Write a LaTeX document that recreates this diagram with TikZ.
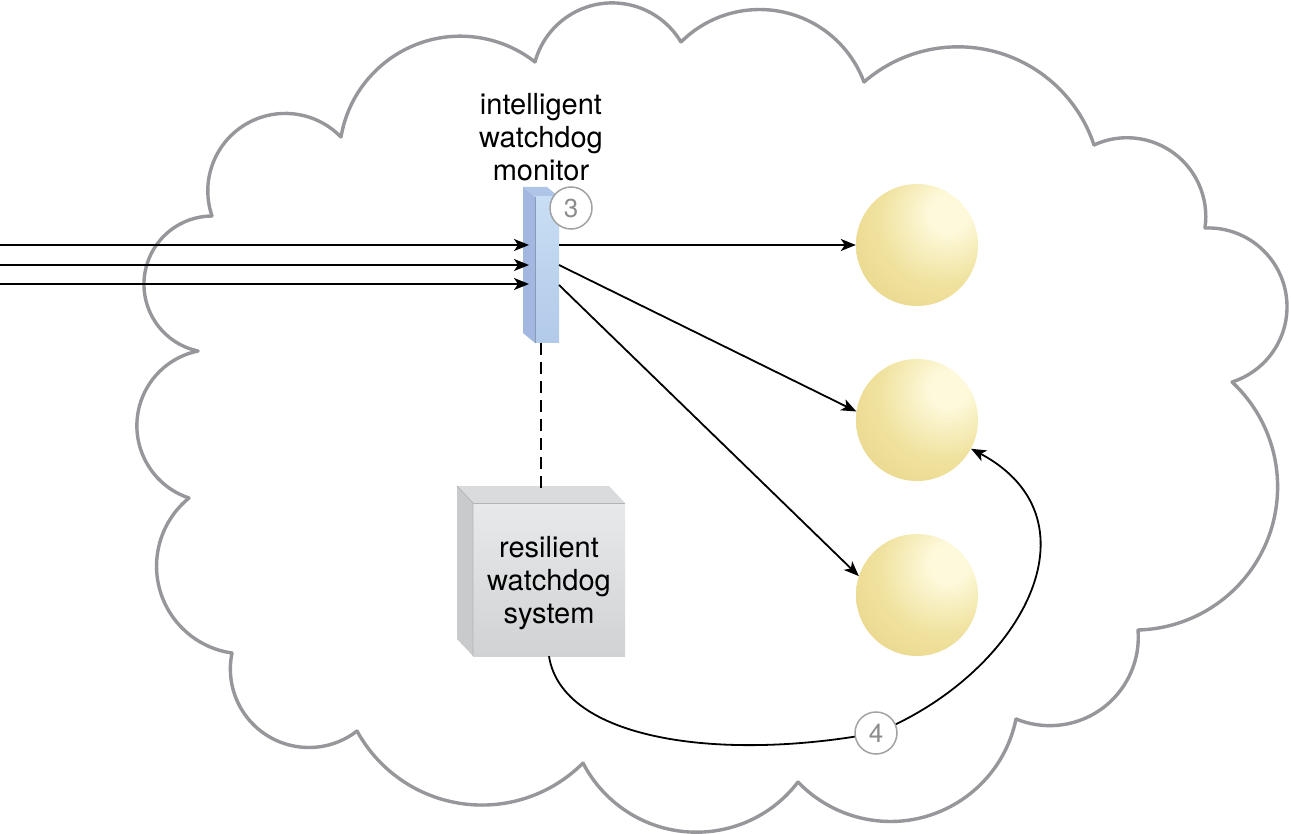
\documentclass[tikz,border=0pt]{standalone}
\usepackage{fontspec}
\setmainfont{TeX Gyre Heros}
\usetikzlibrary{arrows.meta,calc}
\definecolor{cloudgray}{HTML}{96969B}
\definecolor{numgray}{HTML}{8C8C8C}
\definecolor{numline}{HTML}{A2A2A2}
\definecolor{sphBase}{HTML}{E8D486}
\definecolor{sphMid}{HTML}{F0E29F}
\definecolor{sphHi}{HTML}{FDF9DA}
\definecolor{monFrontTop}{HTML}{C8DEF4}
\definecolor{monFrontBot}{HTML}{B2CAE9}
\definecolor{monSide}{HTML}{A2B8E0}
\definecolor{monTop}{HTML}{AEC5E7}
\definecolor{monEdge}{HTML}{8A9BB8}
\definecolor{boxFrontTop}{HTML}{E8E9EA}
\definecolor{boxFrontBot}{HTML}{D1D2D4}
\definecolor{boxTop}{HTML}{DADBDC}
\definecolor{boxSide}{HTML}{C9CACC}
\definecolor{boxEdge}{HTML}{B3B4B6}
\pgfdeclareradialshading{goldball}{\pgfpoint{14bp}{14bp}}{color(0bp)=(sphHi); color(8bp)=(sphHi); color(26bp)=(sphMid); color(46bp)=(sphBase); color(50bp)=(sphBase); color(100bp)=(sphBase)}
% arc of the circle through start (#1,#2), middle (#3,#4) and end (#5,#6), image pixel coordinates
\newcommand{\cloudarc}[6]{%
 \pgfmathsetmacro{\cldBx}{((#3)-(#1))/100}%
 \pgfmathsetmacro{\cldBy}{((#4)-(#2))/100}%
 \pgfmathsetmacro{\cldCx}{((#5)-(#1))/100}%
 \pgfmathsetmacro{\cldCy}{((#6)-(#2))/100}%
 \pgfmathsetmacro{\cldD}{2*((\cldBx)*(\cldCy)-(\cldBy)*(\cldCx))}%
 \pgfmathsetmacro{\cldBB}{(\cldBx)*(\cldBx)+(\cldBy)*(\cldBy)}%
 \pgfmathsetmacro{\cldCC}{(\cldCx)*(\cldCx)+(\cldCy)*(\cldCy)}%
 \pgfmathsetmacro{\cldUx}{((\cldCy)*(\cldBB)-(\cldBy)*(\cldCC))/(\cldD)}%
 \pgfmathsetmacro{\cldUy}{((\cldBx)*(\cldCC)-(\cldCx)*(\cldBB))/(\cldD)}%
 \pgfmathsetmacro{\cldR}{100*sqrt((\cldUx)*(\cldUx)+(\cldUy)*(\cldUy))}%
 \pgfmathsetmacro{\cldS}{atan2(-1*(\cldUy),-1*(\cldUx))}%
 \pgfmathsetmacro{\cldE}{atan2((\cldCy)-(\cldUy),(\cldCx)-(\cldUx))}%
 \pgfmathsetmacro{\cldE}{ifthenelse((\cldE)<(\cldS),(\cldE)+360,(\cldE))}%
 \draw[cloudline] (#1,#2) arc[start angle=\cldS, end angle=\cldE, radius=\cldR];%
}
\begin{document}
\begin{tikzpicture}[x=1pt,y=-1pt,
  arr/.style={line width=1.8pt, -{Stealth[length=15pt,width=12pt,inset=4pt]}},
  numcirc/.style={circle, draw=numline, line width=1.5pt, fill=white, minimum size=42pt, inner sep=0pt, text=numgray, font=\fontsize{26}{30}\selectfont},
  sphere/.style={circle, minimum size=122pt, inner sep=0pt, shading=goldball},
  lbl/.style={align=center, font=\fontsize{29}{33}\selectfont, inner sep=0pt},
  cloudline/.style={draw=cloudgray, line width=3.4pt, line cap=round}]
\fill[white] (0,0) rectangle (1291,834);
\useasboundingbox (0,0) rectangle (1291,834);
% cloud outline: one circular arc per bump
\cloudarc{198}{351}{144}{282}{212}{216}
\cloudarc{212}{216}{240}{128}{341}{137}
\cloudarc{341}{137}{415}{45}{535}{62}
\cloudarc{535}{62}{608}{3}{681}{42}
\cloudarc{681}{42}{770}{10}{864}{82}
\cloudarc{864}{82}{965}{47}{1094}{145}
\cloudarc{1094}{145}{1160}{145}{1205}{228}
\cloudarc{1205}{228}{1287}{305}{1232}{382}
\cloudarc{1232}{382}{1277}{500}{1138}{630}
\cloudarc{1138}{630}{1110}{702}{1016}{719}
\cloudarc{1016}{719}{920}{818}{798}{782}
\cloudarc{798}{782}{690}{832}{583}{763}
\cloudarc{583}{763}{478}{805}{357}{731}
\cloudarc{357}{731}{280}{742}{232}{653}
\cloudarc{232}{653}{157}{575}{189}{498}
\cloudarc{189}{498}{137}{430}{198}{351}
% monitor (3D column)
\fill[monSide] (523,187) -- (535,197) -- (535,343) -- (523,333) -- cycle;
\fill[monTop] (523,187) -- (547,187) -- (559,197) -- (535,197) -- cycle;
\fill[top color=monFrontTop, bottom color=monFrontBot] (535,197) rectangle (559,343);
\draw[monEdge, line width=0.6pt] (535,197) -- (535,343);
\node[minimum width=24pt, minimum height=146pt, inner sep=0pt] (mon) at (547,270) {};
\node[lbl] (monlbl) at (541,137) {intelligent\\watchdog\\monitor};
% resilient box (3D)
\fill[boxSide] (457,486) -- (473,503) -- (473,656) -- (457,639) -- cycle;
\fill[boxTop] (457,486) -- (609,486) -- (625,503) -- (473,503) -- cycle;
\fill[top color=boxFrontTop, bottom color=boxFrontBot] (473,503) rectangle (625,656);
\draw[boxEdge, line width=1pt] (473,503) -- (625,503);
\draw[boxEdge, line width=0.8pt] (457,486) -- (473,503) -- (473,656);
\node[minimum width=152pt, minimum height=153pt, inner sep=0pt] (rws) at (549,579.5) {};
\node[lbl] (rwslbl) at (549,583) {resilient\\watchdog\\system};
% spheres
\node[sphere] (s1) at (917,245) {};
\node[sphere] (s2) at (917,420) {};
\node[sphere] (s3) at (917,595) {};
% ports
\coordinate (in1) at (0,245);
\coordinate (in2) at (0,265);
\coordinate (in3) at (0,284);
\coordinate (mi1) at (529,245);
\coordinate (mi2) at (529,265);
\coordinate (mi3) at (529,284);
\coordinate (mo1) at (559,245);
\coordinate (mo2) at (559,265);
\coordinate (mo3) at (559,285);
\coordinate (monbot) at (541,343);
\coordinate (rwstop) at (541,494);
% connectors
\draw[arr] (in1) -- (mi1);
\draw[arr] (in2) -- (mi2);
\draw[arr] (in3) -- (mi3);
\draw[arr] (mo1) -- (s1.west);
\draw[arr] (mo2) -- (s2.172);
\draw[arr] (mo3) -- (s3.162);
\draw[line width=1.5pt, dash pattern=on 12pt off 7pt] (monbot) -- (rwstop);
\draw[arr] (rws.south) .. controls (562,740) and (720,762) .. (876,733) .. controls (1020,675) and (1105,520) .. (s2);
% number circles
\node[numcirc] (n3) at (571,208) {3};
\node[numcirc] (n4) at (876,733) {4};
\end{tikzpicture}
\end{document}
